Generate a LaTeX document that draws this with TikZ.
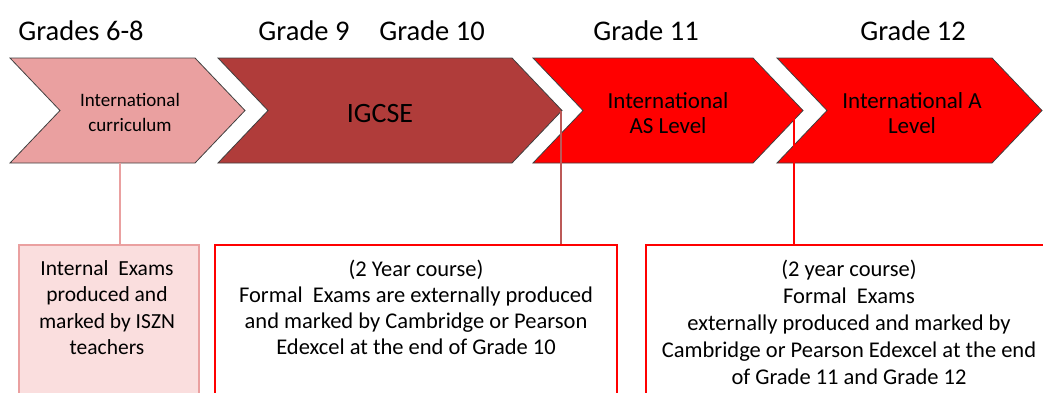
\documentclass[tikz,border=0pt]{standalone}
\usepackage{fontspec}
\setmainfont{Carlito}
\usepackage{tikz}
\definecolor{curpink}{RGB}{234,160,160}
\definecolor{igcsered}{RGB}{176,60,58}
\definecolor{intpink}{RGB}{250,222,222}

\begin{document}
\begin{tikzpicture}[x=1pt,y=-1pt,
    grade/.style={anchor=base,font=\fontsize{28.5}{30}\selectfont},
    chev/.style={draw=black!75,line width=0.8pt},
    chevtext/.style={align=center,font=\fontsize{#1}{25}\selectfont},
    exambox/.style={anchor=north west,inner sep=0pt,minimum height=200pt},
    examtext/.style={anchor=north,align=center,font=\fontsize{22.5}{26.3}\selectfont}]
    \useasboundingbox (0,0) rectangle (1043,392);
    \clip (0,0) rectangle (1043,392);
    % grades
    \node[grade] (g68) at ( 81,40) {Grades 6-8};
    \node[grade] (g9)  at (304,40) {Grade 9};
    \node[grade] (g10) at (432,40) {Grade 10};
    \node[grade] (g11) at (646,40) {Grade 11};
    \node[grade] (g12) at (913,40) {Grade 12};
    % chevrons
    \draw[chev,fill=curpink]   ( 10,58) -- (195,58) -- (245,110.5) -- (195,163) -- ( 10,163) -- ( 60,110.5) -- cycle;
    \draw[chev,fill=igcsered]  (218,58) -- (512,58) -- (562,110.5) -- (512,163) -- (218,163) -- (268,110.5) -- cycle;
    \draw[chev,fill=red]       (533,58) -- (753,58) -- (803,110.5) -- (753,163) -- (533,163) -- (583,110.5) -- cycle;
    \draw[chev,fill=red]       (777,58) -- (992,58) -- (1042,110.5) -- (992,163) -- (777,163) -- (827,110.5) -- cycle;
    \node[chevtext=19] (intcur) at (130,112) {International\\curriculum};
    \node[chevtext=28] (igcse)  at (380,114) {IGCSE};
    \node[chevtext=23] (intas)  at (668,113) {International\\AS Level};
    \node[chevtext=23] (inta)   at (912,113) {International A\\Level};
    \coordinate (curfoot) at (120,163);
    \coordinate (igtip)   at (561,111);
    \coordinate (astip)   at (794,111);
    % exam boxes
    \node[exambox,draw=curpink,fill=intpink,line width=1.6pt,minimum width=180pt] (internal) at ( 18,244) {};
    \node[exambox,draw=red,line width=2pt,minimum width=402pt] (igexam) at (214,244) {};
    \node[exambox,draw=red,line width=2.4pt,minimum width=420pt] (alexam) at (645,244) {};
    \node[examtext,font=\fontsize{21.5}{26.3}\selectfont] (internaltxt) at (107,257) {Internal\ \ Exams\\produced and\\marked by ISZN\\teachers};
    \node[examtext] (igexamtxt) at (416,256) {(2 Year course)\\Formal\ \ Exams are externally produced\\and marked by Cambridge or Pearson\\Edexcel at the end of Grade 10};
    \node[examtext,font=\fontsize{22.5}{27.2}\selectfont] (alexamtxt) at (849,256) {(2 year course)\\Formal\ \ Exams\\externally produced and marked by\\Cambridge or Pearson Edexcel at the end\\of Grade 11 and Grade 12};
    % links
    \draw[curpink,line width=1.6pt] (curfoot) -- (curfoot |- internal.north);
    \draw[igcsered!85,line width=1.6pt] (igtip) -- (igtip |- igexam.north);
    \draw[red,line width=1.8pt] (astip) -- (astip |- alexam.north);
\end{tikzpicture}
\end{document}
